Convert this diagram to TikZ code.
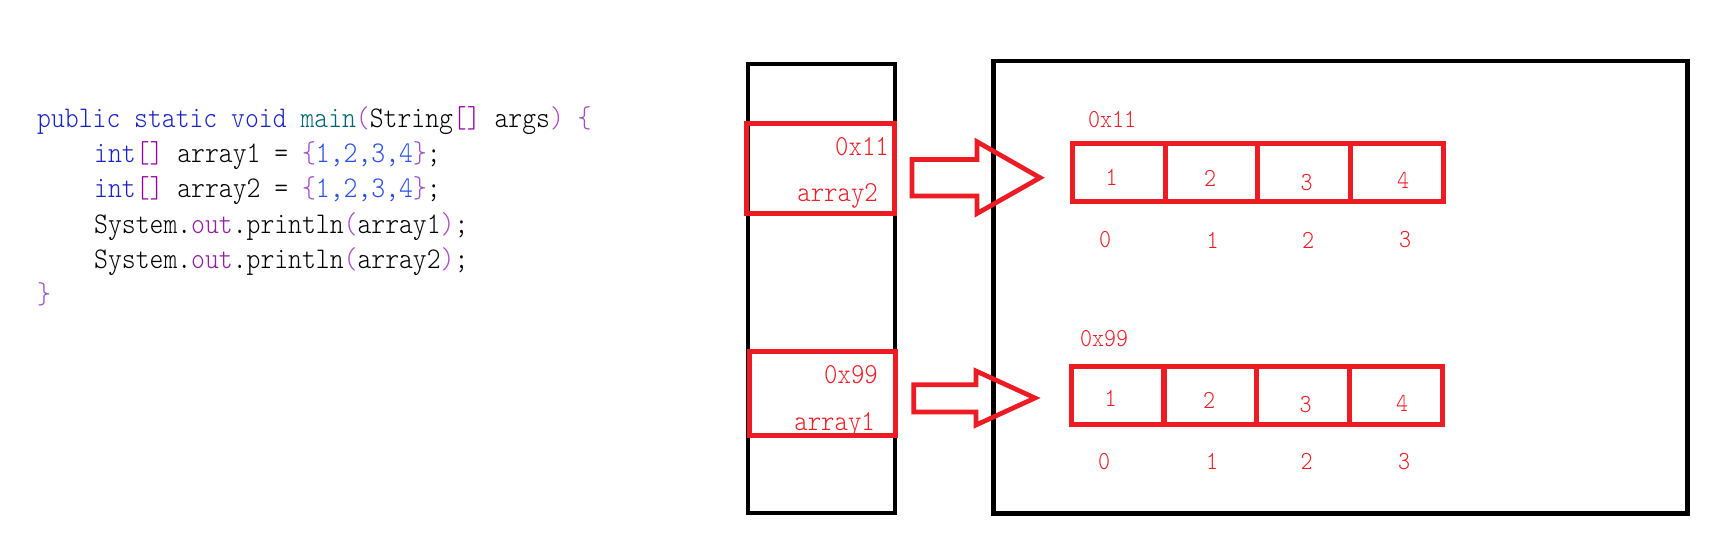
\documentclass[tikz,border=0pt]{standalone}
\usepackage{fontspec}
\newfontfamily\codefont{lmmonolt10-regular}[Extension=.otf,FakeStretch=0.88]
\definecolor{memred}{RGB}{237,28,36}
\definecolor{kw}{RGB}{25,35,195}
\definecolor{fn}{RGB}{0,100,115}
\definecolor{brk}{RGB}{150,0,165}
\definecolor{par}{RGB}{175,70,205}
\definecolor{brc}{RGB}{160,80,200}
\definecolor{num}{RGB}{40,80,230}
\definecolor{outc}{RGB}{145,30,165}
\tikzset{
  codeline/.style={anchor=base west, inner sep=0pt, font=\codefont\fontsize{30}{36}\selectfont},
  stacklabel/.style={anchor=base east, inner sep=0pt, text=memred, font=\codefont\fontsize{29}{35}\selectfont},
  arrlabel/.style={anchor=base west, inner sep=0pt, text=memred, font=\codefont\fontsize{26}{31}\selectfont},
  celltext/.style={anchor=center, inner sep=0pt, text=memred, font=\codefont\fontsize{26}{31}\selectfont},
  cellbox/.style={draw=memred, line width=5pt, minimum width=92.75pt, minimum height=58pt, inner sep=0pt, outer sep=0pt},
  framebox/.style={draw=black, line width=4.7pt, inner sep=0pt, outer sep=0pt},
  slotbox/.style={draw=memred, line width=5pt, inner sep=0pt, outer sep=0pt},
  blockarrow/.style={draw=memred, line width=4.7pt, line join=miter}
}
\begin{document}
\begin{tikzpicture}[x=1pt,y=-1pt]
\useasboundingbox (0,0) rectangle (1732,553);
\fill[white] (0,0) rectangle (1732,553);

% code
\node[codeline] (code1) at (37,127.3) {\textcolor{kw}{public static void} \textcolor{fn}{main}\textcolor{par}{(}String\textcolor{brk}{[]} args\textcolor{par}{)} \textcolor{brc}{\{}};
\node[codeline] (code2) at (94,162.7) {\textcolor{kw}{int}\textcolor{brk}{[]} array1 = \textcolor{brc}{\{}\textcolor{num}{1,2,3,4}\textcolor{brc}{\}};};
\node[codeline] (code3) at (94,198) {\textcolor{kw}{int}\textcolor{brk}{[]} array2 = \textcolor{brc}{\{}\textcolor{num}{1,2,3,4}\textcolor{brc}{\}};};
\node[codeline] (code4) at (94,233.4) {System.\textcolor{outc}{out}.println\textcolor{par}{(}array1\textcolor{par}{)};};
\node[codeline] (code5) at (94,268.8) {System.\textcolor{outc}{out}.println\textcolor{par}{(}array2\textcolor{par}{)};};
\node[codeline] (code6) at (37,304) {\textcolor{brc}{\}}};

% stack
\node[framebox, minimum width=147pt, minimum height=449pt] (stack) at (821.5,288.5) {};
\node[slotbox, minimum width=147.5pt, minimum height=90.5pt] (slot2) at (820.25,168.75) {};
\node[slotbox, minimum width=146.5pt, minimum height=83.5pt] (slot1) at (822.25,393.25) {};
\node[stacklabel] (addr2) at (889,156) {0x11};
\node[stacklabel] (name2) at (878,201.7) {array2};
\node[stacklabel] (addr1) at (878,383) {0x99};
\node[stacklabel] (name1) at (875,430) {array1};

% heap
\node[framebox, minimum width=693.8pt, minimum height=452.6pt] (heap) at (1340.6,287.3) {};

% array at 0x11
\node[cellbox] (a1) at (1118.75,173) {};
\node[cellbox] (a2) at (1211.5,173) {};
\node[cellbox] (a3) at (1304.25,173) {};
\node[cellbox] (a4) at (1397,173) {};
\node[arrlabel] (aaddr) at (1088,127.7) {0x11};
\node[celltext] (av1) at (1111.7,177) {1};
\node[celltext] (av2) at (1210,178) {2};
\node[celltext] (av3) at (1306.7,182.7) {3};
\node[celltext] (av4) at (1403,180) {4};
\node[celltext] (ai0) at (1105,240) {0};
\node[celltext] (ai1) at (1212.7,240) {1};
\node[celltext] (ai2) at (1308,240) {2};
\node[celltext] (ai3) at (1405,240) {3};

% array at 0x99
\node[cellbox] (b1) at (1117.75,395.5) {};
\node[cellbox] (b2) at (1210.25,395.5) {};
\node[cellbox] (b3) at (1303.35,395.5) {};
\node[cellbox] (b4) at (1396.1,395.5) {};
\node[arrlabel] (baddr) at (1080,346.7) {0x99};
\node[celltext] (bv1) at (1110.7,398) {1};
\node[celltext] (bv2) at (1209,400) {2};
\node[celltext] (bv3) at (1305.7,405) {3};
\node[celltext] (bv4) at (1402,403) {4};
\node[celltext] (bi0) at (1104,461.7) {0};
\node[celltext] (bi1) at (1212,461.7) {1};
\node[celltext] (bi2) at (1306.7,461.7) {2};
\node[celltext] (bi3) at (1404,461.7) {3};

% block arrows
\draw[blockarrow] (912,159.5) -- (977,159.5) -- (977,141.7) -- (1040,177.75)
  -- (977,213.5) -- (977,196) -- (912,196) -- cycle;
\draw[blockarrow] (913.7,384.7) -- (976,384.7) -- (976,371) -- (1035,398)
  -- (976,425) -- (976,412) -- (913.7,412) -- cycle;
\end{tikzpicture}
\end{document}
